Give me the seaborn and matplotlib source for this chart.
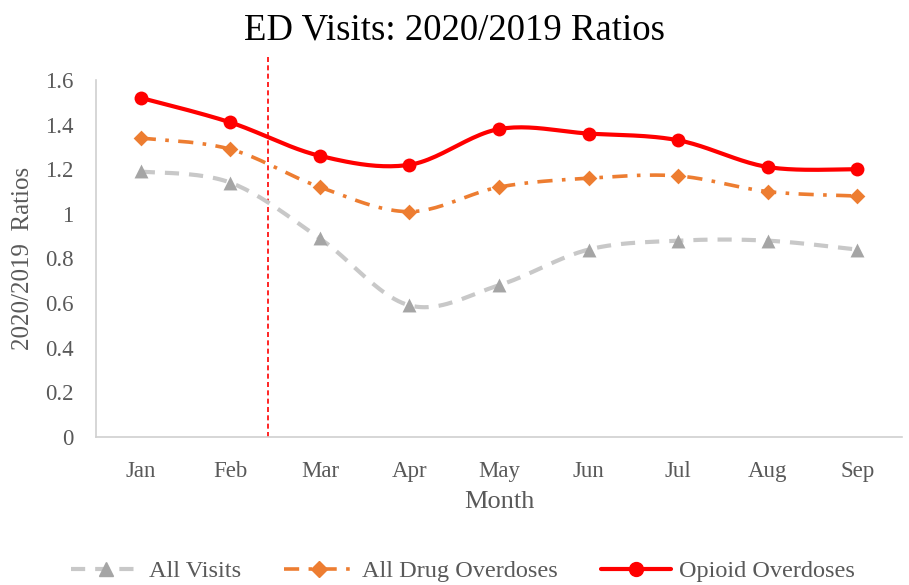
import numpy as np
import pandas as pd
import matplotlib
matplotlib.use("Agg")
import matplotlib.pyplot as plt
from matplotlib.lines import Line2D
import seaborn as sns

months = ["Jan", "Feb", "Mar", "Apr", "May", "Jun", "Jul", "Aug", "Sep"]
all_visits = [1.19, 1.14, 0.89, 0.59, 0.68, 0.84, 0.88, 0.88, 0.84]
all_drug_od = [1.34, 1.29, 1.12, 1.01, 1.12, 1.16, 1.17, 1.10, 1.08]
opioid_od = [1.52, 1.41, 1.26, 1.22, 1.38, 1.36, 1.33, 1.21, 1.20]
series_names = ["All Visits", "All Drug Overdoses", "Opioid Overdoses"]
y_ticks = [0, 0.2, 0.4, 0.6, 0.8, 1, 1.2, 1.4, 1.6]

sns.set_theme(style="white")
plt.rcParams["font.family"] = ["Liberation Serif", "DejaVu Serif"]

GREY_TXT = "#595959"


def smooth(xs, ys, n=24):
    """Cardinal (Catmull-Rom style) Bezier smoothing between data points."""
    xs = np.asarray(xs, float)
    ys = np.asarray(ys, float)
    px = np.concatenate([[xs[0]], xs, [xs[-1]]])
    py = np.concatenate([[ys[0]], ys, [ys[-1]]])
    out_x, out_y = [], []
    t = np.linspace(0, 1, n, endpoint=False)
    for i in range(1, len(px) - 2):
        p0 = np.array([px[i], py[i]])
        p3 = np.array([px[i + 1], py[i + 1]])
        c1 = p0 + (np.array([px[i + 1], py[i + 1]]) - np.array([px[i - 1], py[i - 1]])) / 6
        c2 = p3 - (np.array([px[i + 2], py[i + 2]]) - np.array([px[i], py[i]])) / 6
        b = ((1 - t) ** 3)[:, None] * p0 + (3 * (1 - t) ** 2 * t)[:, None] * c1 \
            + (3 * (1 - t) * t ** 2)[:, None] * c2 + (t ** 3)[:, None] * p3
        out_x.extend(b[:, 0])
        out_y.extend(b[:, 1])
    out_x.append(xs[-1])
    out_y.append(ys[-1])
    return np.array(out_x), np.array(out_y)


fig = plt.figure(figsize=(9.09, 5.85), dpi=100)
ax = fig.add_axes([96 / 909, 1 - 437 / 585, (902 - 96) / 909, (437 - 80) / 585])

styles = [
    dict(color="#c8c8c8", mcolor="#a5a5a5", marker="^", ms=10, lw=3.0,
         ls=(0, (3.4, 2.4))),
    dict(color="#ed7d31", mcolor="#ed7d31", marker="D", ms=8, lw=2.6,
         ls=(0, (4.2, 2.6, 1.0, 2.6))),
    dict(color="#ff0000", mcolor="#ff0000", marker="o", ms=10, lw=3.0,
         ls="-"),
]

x_idx = np.arange(len(months))
handles = []
for name, vals, st in zip(series_names, [all_visits, all_drug_od, opioid_od], styles):
    sx, sy = smooth(x_idx, vals)
    curve = pd.DataFrame({"x": sx, "y": sy})
    sns.lineplot(data=curve, x="x", y="y", ax=ax, color=st["color"],
                 linewidth=st["lw"], linestyle=st["ls"], sort=False,
                 estimator=None, legend=False, zorder=2)
    pts = pd.DataFrame({"x": x_idx, "y": vals})
    sns.scatterplot(data=pts, x="x", y="y", ax=ax, color=st["mcolor"],
                    marker=st["marker"], s=st["ms"] ** 2, linewidth=0,
                    legend=False, zorder=3)
    handles.append(Line2D([], [], color=st["color"], lw=st["lw"],
                          linestyle=st["ls"], marker=st["marker"],
                          markersize=st["ms"], markerfacecolor=st["mcolor"],
                          markeredgecolor=st["mcolor"], label=name))

# March 2020 marker line
ax.axvline(1.42, ymin=0, ymax=(437 - 57) / (437 - 80), color="#ff0000",
           lw=1.2, ls=(0, (3, 2)), clip_on=False, zorder=1)

ax.set_xlim(-0.5, len(months) - 0.5)
ax.set_ylim(0, 1.6)
ax.set_xticks(x_idx)
ax.set_xticklabels(months)
ax.set_yticks(y_ticks)
ax.set_yticklabels([f"{v:g}" for v in y_ticks])
ax.tick_params(axis="both", length=0, labelsize=16.5, labelcolor=GREY_TXT)
ax.tick_params(axis="x", pad=17)
ax.tick_params(axis="y", pad=16)

for side in ["top", "right"]:
    ax.spines[side].set_visible(False)
for side in ["left", "bottom"]:
    ax.spines[side].set_color("#d0d0d0")
    ax.spines[side].set_linewidth(1.2)

ax.set_xlabel("Month", fontsize=19, color=GREY_TXT, labelpad=7)
ax.set_ylabel("2020/2019  Ratios", fontsize=18, color=GREY_TXT, labelpad=8)
fig.suptitle("ED Visits: 2020/2019 Ratios", fontsize=26.5, color="black",
             x=0.5, y=0.978)

fig.legend(handles=handles, loc="center", bbox_to_anchor=(0.509, 1 - 571 / 585),
           ncol=3, frameon=False, fontsize=17.5, handlelength=2.9,
           columnspacing=1.78, handletextpad=0.3, labelcolor=GREY_TXT)

fig.savefig("out.png", dpi=100, facecolor="white")
